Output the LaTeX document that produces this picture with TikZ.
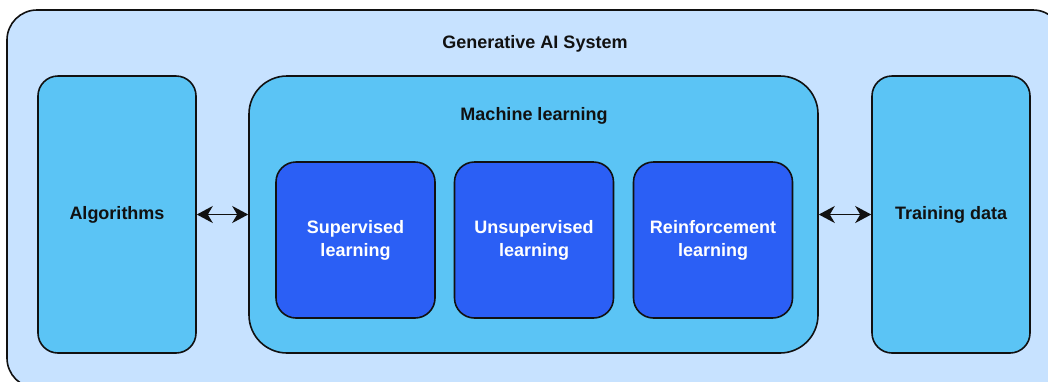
\documentclass[tikz,border=0pt]{standalone}
\usepackage{fontspec}
\setmainfont{Liberation Sans}
\usetikzlibrary{arrows.meta}

\definecolor{skypale}{HTML}{C7E2FF}
\definecolor{skymid}{HTML}{5BC4F5}
\definecolor{royal}{HTML}{2B5FF5}
\definecolor{ink}{HTML}{111111}

\tikzset{
	box/.style={draw=ink, line width=1.6pt, rounded corners=20pt, font=\bfseries\fontsize{18}{23}\selectfont, text=ink, align=center},
	sidebox/.style={box, fill=skymid, minimum width=158pt, minimum height=277pt},
	methodbox/.style={box, fill=royal, text=white, minimum width=159pt, minimum height=156pt},
	biarrow/.style={line width=1.8pt, draw=ink, {Stealth[length=16pt,width=17pt,inset=5pt]}-{Stealth[length=16pt,width=17pt,inset=5pt]}},
	title/.style={font=\bfseries\fontsize{18}{23}\selectfont, text=ink}
}

\begin{document}
\begin{tikzpicture}[x=1pt, y=-1pt]
	\useasboundingbox (0,0) rectangle (1048,381);
	% system frame
	\node[box, fill=skypale, rounded corners=30pt, minimum width=1056pt, minimum height=378pt] (system) at (535,199) {};
	\node[title] (systemtitle) at (535,44) {Generative AI System};

	% outer columns
	\node[sidebox] (algo) at (117,214.5) {Algorithms};
	\node[box, fill=skymid, rounded corners=38pt, minimum width=569pt, minimum height=277pt] (ml) at (533.5,214.5) {};
	\node[sidebox] (data) at (951,214.5) {Training data};
	\node[title] (mltitle) at (534,116) {Machine learning};

	% learning methods
	\node[methodbox] (super) at (355.5,240) {Supervised\\learning};
	\node[methodbox] (unsuper) at (534,240) {Unsupervised\\learning};
	\node[methodbox] (reinf) at (713,240) {Reinforcement\\learning};

	\draw[biarrow] (algo.east) -- (ml.west);
	\draw[biarrow] (ml.east) -- (data.west);
\end{tikzpicture}
\end{document}
